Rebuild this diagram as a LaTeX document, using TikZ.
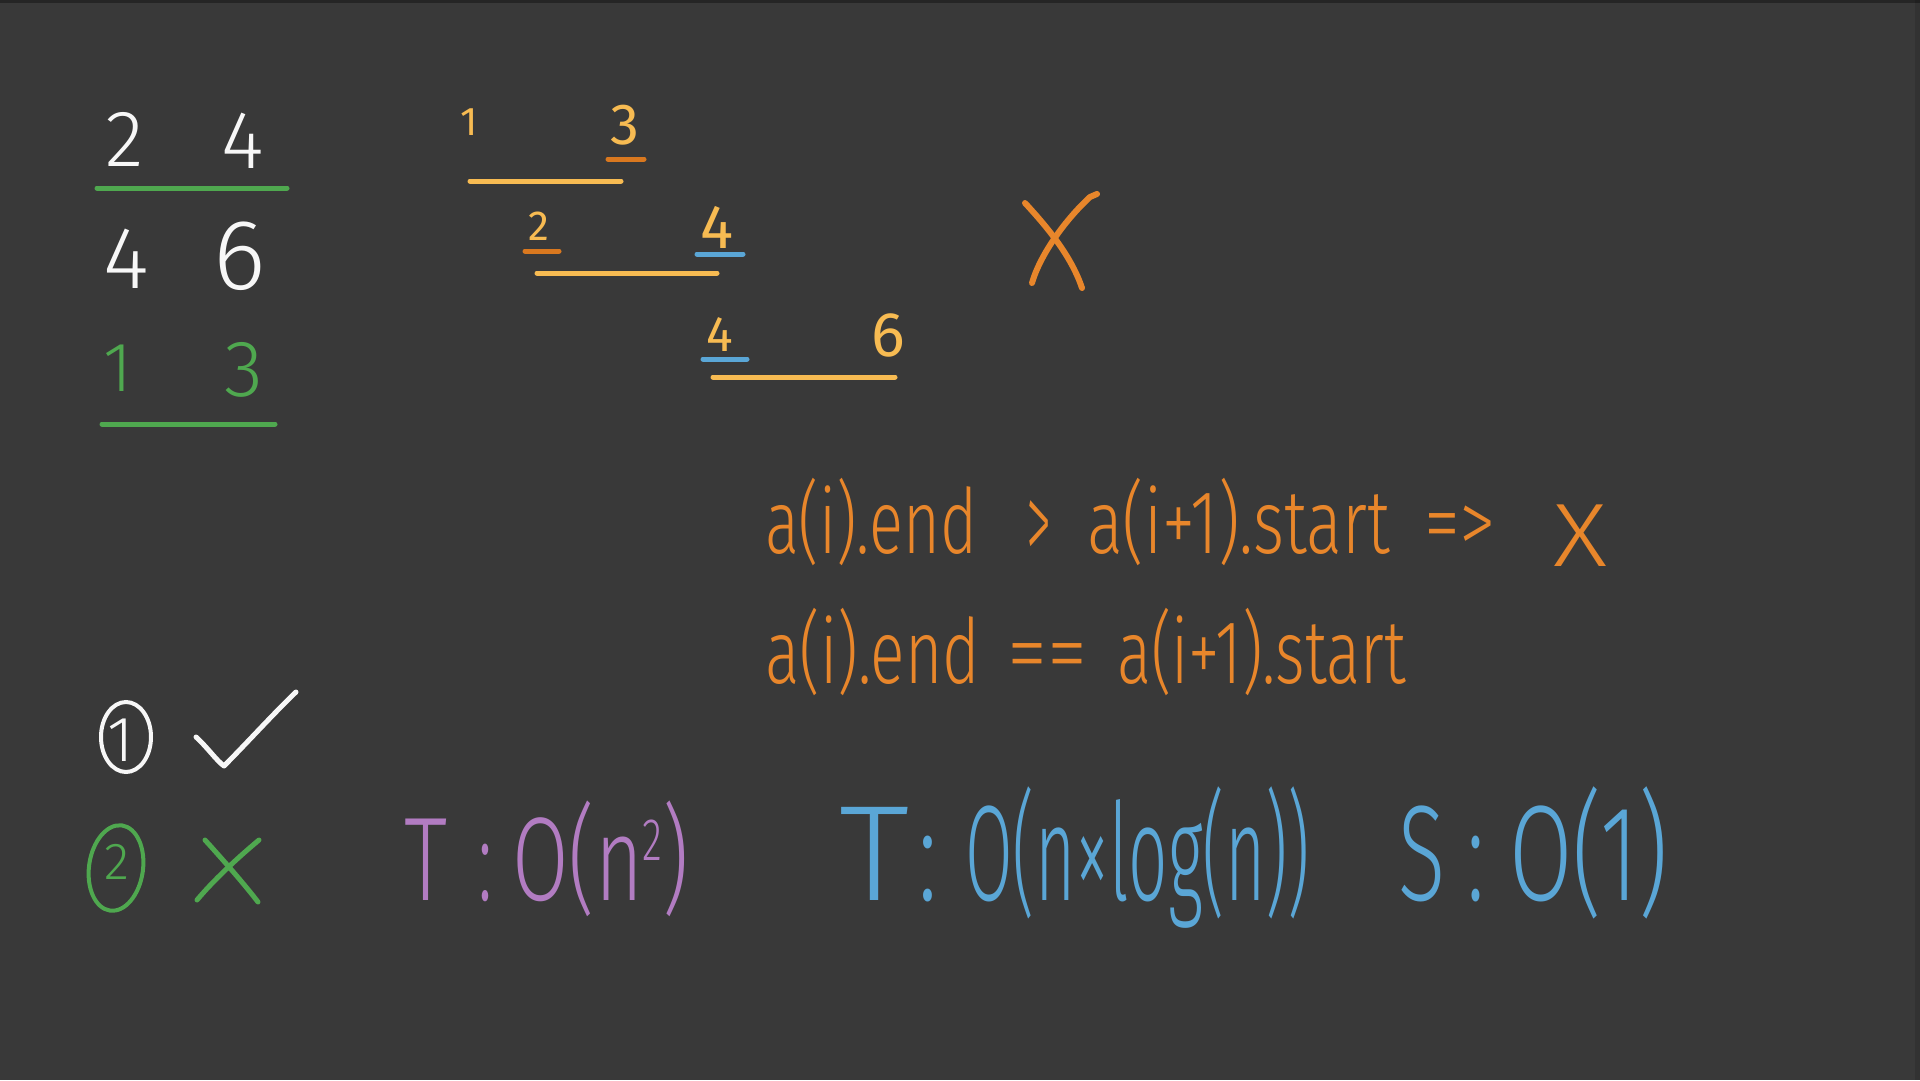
\documentclass[tikz,border=0pt]{standalone}
\usepackage{fontspec}
\IfFontExistsTF{Fira Sans Light}{\setmainfont{Fira Sans Light}}{\setmainfont{Fira Sans}}
\newfontfamily\regfont{Fira Sans}
\usepackage{graphicx}
\definecolor{bg}{HTML}{393939}
\definecolor{chalk}{HTML}{F7F7F7}
\definecolor{grn}{HTML}{4FA84F}
\definecolor{ylw}{HTML}{F7BB52}
\definecolor{org}{HTML}{D9781F}
\definecolor{ora}{HTML}{E8862B}
\definecolor{blu}{HTML}{5AA6D6}
\definecolor{pur}{HTML}{B27CC2}
\newcommand\hwfit[2]{\resizebox{#1}{\height}{#2}}
\tikzset{
  txt/.style={inner sep=0pt, outer sep=0pt},
  hw/.style={inner sep=0pt, outer sep=0pt, anchor=base west},
  stroke/.style={line width=5pt, line cap=round, line join=round},
  fs/.style={font=\fontsize{#1}{#1}\selectfont},
  rfs/.style={font=\regfont\fontsize{#1}{#1}\selectfont},
}
\begin{document}
\begin{tikzpicture}[x=1pt,y=-1pt]
\useasboundingbox (0,0) rectangle (1920,1080);
\fill[bg] (0,0) rectangle (1920,1080);
\fill[black, opacity=0.35] (0,0) rectangle (1920,3);
\fill[black, opacity=0.12] (1915,0) rectangle (1920,1080);

% left table
\node[txt, text=chalk, fs=80] (a1) at (125,139) {2};
\node[txt, text=chalk, fs=82] (a2) at (243,141) {4};
\draw[stroke, grn] (97,188) -- (287,188);
\node[txt, text=chalk, fs=88] (b1) at (126,259) {4};
\node[txt, text=chalk, fs=100] (b2) at (240,256) {6};
\node[txt, text=grn, fs=70] (c1) at (118,368) {1};
\node[txt, text=grn, fs=80] (c2) at (244,370) {3};
\draw[stroke, grn] (102,424) -- (275,424);

% intervals
\node[txt, text=ylw, rfs=40] (i1) at (469,122) {1};
\node[txt, text=ylw, rfs=58] (i3) at (625,125) {3};
\draw[stroke, org] (608,159) -- (644,159);
\draw[stroke, ylw] (470,181) -- (621,181);
\node[txt, text=ylw, rfs=42] (i2) at (539,226) {2};
\node[txt, text=ylw, rfs=62] (i4) at (717,227) {4};
\draw[stroke, org] (525,251) -- (559,251);
\draw[stroke, blu] (697,254) -- (743,254);
\draw[stroke, ylw] (537,273) -- (717,273);
\node[txt, text=ylw, rfs=50] (j4) at (720,335) {4};
\node[txt, text=ylw, rfs=63] (j6) at (888,335) {6};
\draw[stroke, blu] (703,359) -- (747,359);
\draw[stroke, ylw] (713,377) -- (895,377);

% big cross
\draw[stroke, ora, line width=6pt] (1025,203) .. controls (1050,230) and (1072,258) .. (1082,288);
\draw[stroke, ora, line width=6pt] (1097,194) -- (1090,197) .. controls (1065,220) and (1040,255) .. (1032,283);

% formula line 1
\begin{scope}[every node/.style={hw, text=ora, fs=90}]
\node (f1a) at (765,553) {\hwfit{212pt}{a(i).end}};
\node (f1b) at (1026,562) {\resizebox{25pt}{1.3\height}{>}};
\node (f1c) at (1087,553) {\hwfit{303pt}{a(i+1).start}};
\node (f1d) at (1424,553) {\hwfit{72pt}{=>}};
\node (f1e) at (1553,566) {\hwfit{54pt}{X}};
% formula line 2
\node (f2a) at (765,683) {\hwfit{215pt}{a(i).end}};
\node (f2b) at (1007,683) {\hwfit{80pt}{==}};
\node (f2c) at (1117,683) {\hwfit{289pt}{a(i+1).start}};
\end{scope}

% circled marks
\draw[chalk, line width=4pt] (126,737) ellipse [x radius=25, y radius=35];
\node[txt, text=chalk, fs=64] (m1) at (121,740) {1};
\draw[stroke, chalk] (196,737) .. controls (208,748) and (216,760) .. (224,766) .. controls (245,745) and (275,712) .. (296,692);
\draw[grn, line width=4pt, rotate around={-8:(116,868)}] (116,868) ellipse [x radius=27, y radius=43];
\node[txt, text=grn, fs=52] (m2) at (117,862) {2};
\draw[stroke, grn] (205,840) .. controls (225,862) and (245,885) .. (258,902);
\draw[stroke, grn] (259,840) .. controls (235,860) and (212,882) .. (197,900);

% complexities
\begin{scope}[every node/.style={hw, text=pur, fs=119}]
\node (p1) at (404,900) {\hwfit{43pt}{T}};
\node (p2) at (478,900) {\hwfit{14pt}{:}};
\node (p3) at (512,900) {\hwfit{177pt}{O(n\raisebox{40pt}{\fontsize{60}{60}\selectfont 2})}};
\end{scope}
\begin{scope}[every node/.style={hw, text=blu, fs=136}]
\node (q1) at (839,900) {\hwfit{70pt}{T}};
\node (q2) at (918,900) {\hwfit{19pt}{:}};
\node (q3) at (965,900) {\hwfit{345pt}{O(n×log(n))}};
\node (s1) at (1398,900) {\hwfit{47pt}{S}};
\node (s2) at (1467,900) {\hwfit{17pt}{:}};
\node (s3) at (1509,900) {\hwfit{159pt}{O(1)}};
\end{scope}
\end{tikzpicture}
\end{document}
